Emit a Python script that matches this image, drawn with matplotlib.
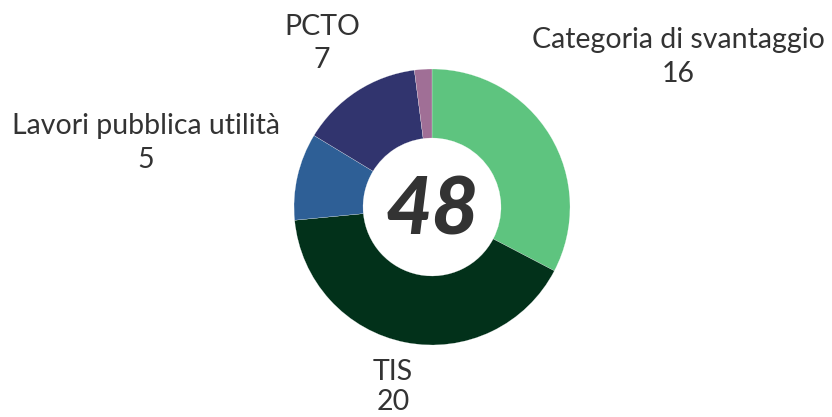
import matplotlib.pyplot as plt

categories = ['Categoria di svantaggio', 'TIS', 'Lavori pubblica utilità', 'PCTO', '']
values = [16, 20, 5, 7, 1]
colors = ['#5ec47f', '#02311a', '#2e5f96', '#31346e', '#a06f96']
shown = [True, True, True, True, False]
total = sum(v for v, s in zip(values, shown) if s)

W, H = 832, 417
R = 138.0
cx, cy = 432, 207

def px(x, y):
    # pixel (from top-left) -> data units
    return (x - cx) / R, (cy - y) / R

fig = plt.figure(figsize=(W / 100, H / 100), dpi=100)
ax = fig.add_axes([0, 0, 1, 1])
ax.pie(values, colors=colors, startangle=90, counterclock=False, radius=1,
       wedgeprops=dict(width=0.5, edgecolor='white', linewidth=0.15))
ax.set_xlim(-cx / R, (W - cx) / R)
ax.set_ylim(-(H - cy) / R, cy / R)
ax.set_aspect('equal')
ax.axis('off')

# label positions (pixel centres for name line, gap to value line)
label_pos = {'Categoria di svantaggio': (678, 40, 34), 'TIS': (393, 372, 30),
             'Lavori pubblica utilità': (146, 126, 34), 'PCTO': (322, 27, 33)}
for name, val, s in zip(categories, values, shown):
    if not s:
        continue
    x, y, gap = label_pos[name]
    ax.text(*px(x, y), name, ha='center', va='center', fontsize=20.5,
            family='Lato', color='#333333')
    ax.text(*px(x, y + gap), str(val), ha='center', va='center', fontsize=20.5,
            family='Lato', color='#333333')

ax.text(0, -0.03, str(total), ha='center', va='center', fontsize=58,
        family='Lato', fontweight='black', style='italic', color='#333333')

fig.savefig('out.png', dpi=100)
